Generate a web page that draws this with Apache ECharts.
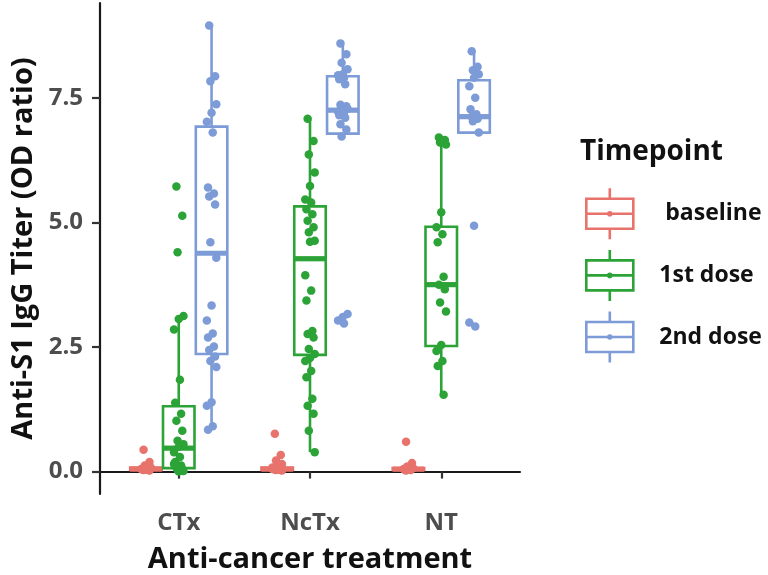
<!DOCTYPE html>
<html>
<head>
<meta charset="utf-8">
<script src="https://cdn.jsdelivr.net/npm/echarts@6/dist/echarts.min.js"></script>
<style>html,body{margin:0;padding:0;background:#fff}#chart{width:768px;height:575px}</style>
</head>
<body>
<div id="chart"></div>
<script>
// ---- data ----
const CATEGORIES = ['CTx', 'NcTx', 'NT'];
const TIMEPOINTS = ['baseline', '1st dose', '2nd dose'];
const Y_TICKS = [0, 2.5, 5, 7.5];

// box stats per category: [whiskerLow, Q1, median, Q3, whiskerHigh]
const baselineBox = [[0.00, 0.03, 0.05, 0.08, 0.16], [0.00, 0.03, 0.05, 0.08, 0.17], [0.00, 0.03, 0.05, 0.07, 0.12]];
const dose1Box    = [[0.00, 0.07, 0.47, 1.31, 3.12], [0.39, 2.34, 4.27, 5.32, 7.08], [1.54, 2.52, 3.75, 4.91, 6.70]];
const dose2Box    = [[0.87, 2.36, 4.38, 6.92, 8.95], [6.72, 6.78, 7.25, 7.93, 8.59], [6.78, 6.80, 7.12, 7.85, 8.43]];

// individual observations per category
const baselinePts = [
  [0.44, 0.19, 0.12, 0.08, 0.06, 0.05, 0.05, 0.04, 0.03, 0.03, 0.02, 0.06, 0.07, 0.04],
  [0.76, 0.33, 0.22, 0.15, 0.10, 0.08, 0.06, 0.05, 0.05, 0.04, 0.03, 0.03, 0.02, 0.07, 0.05, 0.04, 0.06],
  [0.60, 0.17, 0.10, 0.07, 0.05, 0.05, 0.04, 0.03, 0.03, 0.02, 0.06, 0.04]
];
const dose1Pts = [
  [5.72, 5.13, 4.40, 3.12, 3.06, 2.85, 1.84, 1.38, 1.16, 1.02, 0.82, 0.62, 0.55, 0.50, 0.39, 0.29, 0.19, 0.12, 0.08, 0.05, 0.03, 0.01, 0.00, 0.15, 0.07],
  [7.08, 6.63, 6.36, 6.00, 5.73, 5.46, 5.40, 5.26, 5.16, 5.03, 4.90, 4.80, 4.63, 4.61, 3.94, 3.63, 3.43, 2.82, 2.76, 2.69, 2.46, 2.36, 2.28, 2.22, 2.02, 1.89, 1.46, 1.32, 1.16, 0.82, 0.39],
  [6.70, 6.65, 6.60, 6.56, 5.20, 4.90, 4.76, 4.60, 3.91, 3.75, 3.66, 3.39, 3.21, 2.54, 2.42, 2.22, 2.12, 1.54]
];
const dose2Pts = [
  [8.95, 7.93, 7.83, 7.37, 7.20, 7.02, 6.80, 5.70, 5.58, 5.52, 5.36, 4.60, 4.29, 3.33, 3.03, 2.77, 2.69, 2.51, 2.44, 2.31, 2.22, 2.10, 1.39, 1.32, 0.91, 0.84],
  [8.59, 8.37, 8.20, 8.07, 7.97, 7.95, 7.90, 7.87, 7.77, 7.36, 7.33, 7.30, 7.28, 7.25, 7.22, 7.20, 7.15, 7.10, 6.97, 6.86, 6.72, 3.16, 3.10, 3.03, 2.97],
  [8.43, 8.12, 8.05, 7.97, 7.90, 7.73, 7.50, 7.27, 7.17, 7.12, 7.08, 7.03, 6.80, 4.93, 2.99, 2.91]
];

// ---- styling / layout ----
const COLORS = ['#E8736C', '#2BA336', '#7C9BD7'];
const OFFSETS = [-0.25, 0, 0.25];
const BOX_W = 0.24;
const FONT = '"Open Sans"';
const boxes = [baselineBox, dose1Box, dose2Box];
const pts = [baselinePts, dose1Pts, dose2Pts];

function jitter(i) { return (((i * 5 + 2) % 9) - 4) * 0.009; }

function makeRender(k) {
  return function (params, api) {
    const xc = api.value(0) + OFFSETS[k];
    const lo = api.coord([xc, api.value(1)]);
    const q1 = api.coord([xc, api.value(2)]);
    const md = api.coord([xc, api.value(3)]);
    const q3 = api.coord([xc, api.value(4)]);
    const hi = api.coord([xc, api.value(5)]);
    const hw = api.size([BOX_W, 0])[0] / 2;
    const c = COLORS[k];
    const st = { stroke: c, lineWidth: 2.6, fill: 'none' };
    return {
      type: 'group',
      children: [
        { type: 'line', shape: { x1: hi[0], y1: hi[1], x2: q3[0], y2: q3[1] }, style: st },
        { type: 'line', shape: { x1: q1[0], y1: q1[1], x2: lo[0], y2: lo[1] }, style: st },
        { type: 'rect', shape: { x: q3[0] - hw, y: q3[1], width: 2 * hw, height: q1[1] - q3[1] }, style: { stroke: c, lineWidth: 2.6, fill: '#fff' } },
        { type: 'line', shape: { x1: md[0] - hw, y1: md[1], x2: md[0] + hw, y2: md[1] }, style: { stroke: c, lineWidth: 5.2 } }
      ]
    };
  };
}

const series = [];
TIMEPOINTS.forEach(function (name, k) {
  series.push({
    name: name,
    type: 'custom',
    renderItem: makeRender(k),
    encode: { x: 0, y: [1, 2, 3, 4, 5] },
    itemStyle: { color: COLORS[k] },
    data: boxes[k].map(function (b, ci) { return [ci + 1].concat(b); }),
    z: 2
  });
});
TIMEPOINTS.forEach(function (name, k) {
  const d = [];
  pts[k].forEach(function (arr, ci) {
    arr.forEach(function (v, i) { d.push([ci + 1 + OFFSETS[k] + jitter(i), v]); });
  });
  series.push({
    name: name + ' points',
    type: 'scatter',
    symbol: 'circle',
    symbolSize: 8.5,
    itemStyle: { color: COLORS[k], opacity: 1 },
    data: d,
    z: 3,
    silent: true
  });
});

const ICON = 'path://M0,10.5 H47 V40.5 H0 Z M0,25.5 H47 M23.5,0 V10.5 M23.5,40.5 V51 M22,25.5 a1.5,1.5 0 1,0 3,0 a1.5,1.5 0 1,0 -3,0';

const chart = echarts.init(document.getElementById('chart'), null, { renderer: 'canvas' });
chart.setOption({
  animation: false,
  backgroundColor: '#fff',
  title: {
    text: 'Timepoint', left: 580, top: 138, padding: 0,
    textStyle: { fontFamily: FONT, fontWeight: 'bold', fontSize: 28, color: '#111' }
  },
  legend: {
    orient: 'vertical', left: 585, top: 187, padding: 0,
    itemWidth: 47, itemHeight: 51, itemGap: 8,
    selectedMode: false,
    formatter: function (n) { return n === 'baseline' ? ' baseline' : n; },
    textStyle: { fontFamily: FONT, fontWeight: 'bold', fontSize: 23, color: '#111', padding: [0, 0, 0, 21] },
    data: TIMEPOINTS.map(function (n, k) {
      return { name: n, icon: ICON, itemStyle: { color: 'rgba(0,0,0,0)', borderColor: COLORS[k], borderWidth: 2.6 } };
    })
  },
  grid: { left: 100, right: 248, top: 3, bottom: 81, containLabel: false, outerBoundsMode: 'none' },
  xAxis: {
    type: 'value', min: 0.4, max: 3.6,
    name: 'Anti-cancer treatment', nameLocation: 'middle', nameGap: 51,
    nameTextStyle: { fontFamily: FONT, fontWeight: 'bold', fontSize: 29, color: '#111' },
    axisLine: { show: true, lineStyle: { color: '#1a1a1a', width: 2.2 } },
    axisTick: { show: true, customValues: [1, 2, 3], length: 7, lineStyle: { color: '#333', width: 2.2 } },
    axisLabel: {
      customValues: [1, 2, 3], margin: 17,
      formatter: function (v) { return CATEGORIES[Math.round(v) - 1]; },
      fontFamily: FONT, fontWeight: 'bold', fontSize: 24, color: '#4d4d4d'
    },
    splitLine: { show: false }
  },
  yAxis: {
    type: 'value', min: -0.45, max: 9.4,
    name: 'Anti-S1 IgG Titer (OD ratio)', nameLocation: 'middle', nameGap: 60,
    nameTextStyle: { fontFamily: FONT, fontWeight: 'bold', fontSize: 29, color: '#111' },
    axisLine: { show: true, lineStyle: { color: '#1a1a1a', width: 2.2 } },
    axisTick: { show: true, customValues: Y_TICKS, length: 8, lineStyle: { color: '#333', width: 2.2 } },
    axisLabel: {
      customValues: Y_TICKS, margin: 17,
      formatter: function (v) { return v.toFixed(1); },
      fontFamily: FONT, fontWeight: 'bold', fontSize: 24, color: '#4d4d4d'
    },
    splitLine: { show: false }
  },
  series: series
});
</script>
</body>
</html>
